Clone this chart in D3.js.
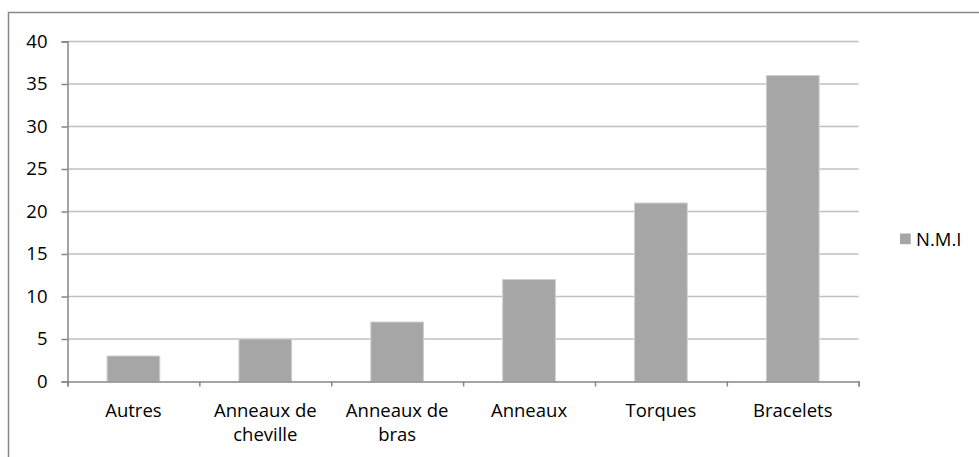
<!DOCTYPE html>
<html>
<head>
<meta charset="utf-8">
<script src="https://cdn.jsdelivr.net/npm/d3@7"></script>
<style>
  html, body { margin: 0; padding: 0; background: #fff; }
  svg { display: block; }
  text { font-family: "Open Sans", "Liberation Sans", sans-serif; fill: #000; }
</style>
</head>
<body>
<svg id="chart" width="979" height="457"></svg>
<script>
// Ornament types and their minimum number of individuals (N.M.I)
const categories = ["Autres", "Anneaux de cheville", "Anneaux de bras", "Anneaux", "Torques", "Bracelets"];
const nmi = [3, 5, 7, 12, 21, 36];
const yTicks = [0, 5, 10, 15, 20, 25, 30, 35, 40];
const seriesName = "N.M.I";

const svg = d3.select("#chart");
const W = 979, H = 457;
const plot = { left: 67.5, right: 858.7, top: 41.5, bottom: 381.5 };
const fontSize = 18.5;

// outer chart frame
svg.append("rect")
  .attr("x", 8.5).attr("y", 12.5)
  .attr("width", W + 10).attr("height", H + 10)
  .attr("fill", "none").attr("stroke", "#868686").attr("stroke-width", 1.5);

const y = d3.scaleLinear().domain([0, 40]).range([plot.bottom, plot.top]);
const x = d3.scaleBand().domain(categories).range([plot.left, plot.right])
  .paddingInner(0.6).paddingOuter(0.3);
// category boundaries for tick marks
const xb = d3.scaleLinear().domain([0, categories.length]).range([plot.left, plot.right]);

// horizontal gridlines
svg.append("g")
  .selectAll("line")
  .data(yTicks.filter(d => d > 0))
  .join("line")
  .attr("x1", plot.left).attr("x2", plot.right)
  .attr("y1", d => y(d)).attr("y2", d => y(d))
  .attr("stroke", "#c0c0c0").attr("stroke-width", 1.5);

// bars
svg.append("g")
  .selectAll("rect")
  .data(categories.map((c, i) => ({ c, v: nmi[i] })))
  .join("rect")
  .attr("x", d => x(d.c))
  .attr("y", d => y(d.v))
  .attr("width", x.bandwidth())
  .attr("height", d => y(0) - y(d.v))
  .attr("fill", "#a6a6a6")
  .attr("stroke", "#d0d0d0").attr("stroke-width", 1);

// y axis
const yAxis = svg.append("g")
  .attr("transform", `translate(${plot.left},0)`)
  .call(d3.axisLeft(y).tickValues(yTicks).tickSize(6).tickPadding(14).tickFormat(d3.format("d")));
yAxis.select(".domain").attr("stroke", "#868686").attr("stroke-width", 1.5);
yAxis.selectAll(".tick line").attr("stroke", "#868686").attr("stroke-width", 1.5);
yAxis.selectAll(".tick text").attr("font-size", fontSize)
  .attr("font-family", "'Open Sans', sans-serif").attr("fill", "#000");

// x axis: ticks between categories
const xAxis = svg.append("g")
  .attr("transform", `translate(0,${plot.bottom})`)
  .call(d3.axisBottom(xb).tickValues(d3.range(categories.length + 1)).tickSize(5).tickFormat(""));
xAxis.select(".domain").attr("stroke", "#868686").attr("stroke-width", 1.5);
xAxis.selectAll(".tick line").attr("stroke", "#868686").attr("stroke-width", 1.5);

// category labels, wrapped to fit the category width
const maxW = xb(1) - xb(0) - 20;
const labels = svg.append("g")
  .selectAll("text")
  .data(categories)
  .join("text")
  .attr("x", d => x(d) + x.bandwidth() / 2)
  .attr("y", 417)
  .attr("text-anchor", "middle")
  .attr("font-size", fontSize);

labels.each(function(d) {
  const t = d3.select(this);
  const words = d.split(" ");
  let line = [];
  let tspan = t.append("tspan").attr("x", t.attr("x")).attr("dy", 0);
  words.forEach(w => {
    line.push(w);
    tspan.text(line.join(" "));
    if (tspan.node().getComputedTextLength() > maxW && line.length > 1) {
      line.pop();
      tspan.text(line.join(" "));
      line = [w];
      tspan = t.append("tspan").attr("x", t.attr("x")).attr("dy", 24).text(w);
    }
  });
});

// legend
const legend = svg.append("g");
legend.append("rect")
  .attr("x", 900).attr("y", 233.5).attr("width", 10.7).attr("height", 10.7)
  .attr("fill", "#a6a6a6");
legend.append("text")
  .attr("x", 916).attr("y", 245.5)
  .attr("font-size", fontSize)
  .text(seriesName);
</script>
</body>
</html>
